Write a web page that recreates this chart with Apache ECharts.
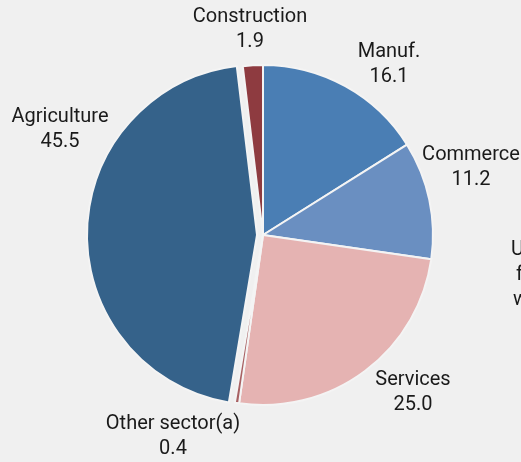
<!DOCTYPE html>
<html>
<head>
<meta charset="utf-8">
<script src="https://cdn.jsdelivr.net/npm/echarts@6/dist/echarts.min.js"></script>
<style>
  html, body { margin: 0; padding: 0; background: #f0f0f0; }
  #chart { width: 521px; height: 462px; }
</style>
</head>
<body>
<div id="chart"></div>
<script>
// Employment share by sector (%)
const sectors = ['Manuf.', 'Commerce', 'Services', 'Other sector(a)', 'Agriculture', 'Construction'];
const shares = [16.1, 11.2, 25.0, 0.4, 45.5, 1.9];
const sectorColors = ['#4a7eb4', '#6a8fc1', '#e5b3b2', '#a86163', '#35628a', '#8e3b40'];
const pulledOut = ['Agriculture'];

// Pixel centres of each two-line label
const labelAnchors = {
  'Manuf.': [389, 64],
  'Commerce': [471, 167],
  'Services': [413, 392],
  'Other sector(a)': [173, 436],
  'Agriculture': [60, 129],
  'Construction': [250, 29]
};

const FONT = '20px Roboto';
const TEXT_COLOR = '#1a1a1a';

const chart = echarts.init(document.getElementById('chart'), null, { renderer: 'canvas' });

const data = sectors.map((name, i) => ({
  name: name,
  value: shares[i],
  selected: pulledOut.indexOf(name) >= 0,
  itemStyle: { color: sectorColors[i] }
}));

const sectorLabels = sectors.map((name, i) => ({
  type: 'text',
  x: labelAnchors[name][0],
  y: labelAnchors[name][1],
  style: {
    text: name + '\n' + shares[i].toFixed(1),
    font: FONT,
    lineHeight: 25,
    fill: TEXT_COLOR,
    align: 'center',
    verticalAlign: 'middle'
  }
}));

// Clipped caption belonging to the neighbouring panel
const edgeCaption = [
  { type: 'text', x: 511, y: 250, style: { text: 'Unpaid', font: FONT, fill: TEXT_COLOR, verticalAlign: 'middle' } },
  { type: 'text', x: 516, y: 275, style: { text: 'family', font: FONT, fill: TEXT_COLOR, verticalAlign: 'middle' } },
  { type: 'text', x: 513, y: 300, style: { text: 'workers', font: FONT, fill: TEXT_COLOR, verticalAlign: 'middle' } }
];

chart.setOption({
  backgroundColor: '#f0f0f0',
  animation: false,
  graphic: sectorLabels.concat(edgeCaption),
  series: [{
    type: 'pie',
    center: [263, 235],
    radius: [0, 170],
    startAngle: 90,
    clockwise: true,
    selectedMode: 'multiple',
    selectedOffset: 6,
    itemStyle: { borderColor: '#f4f4f4', borderWidth: 2 },
    emphasis: { disabled: true },
    label: { show: false },
    labelLine: { show: false },
    data: data
  }]
});
</script>
</body>
</html>
